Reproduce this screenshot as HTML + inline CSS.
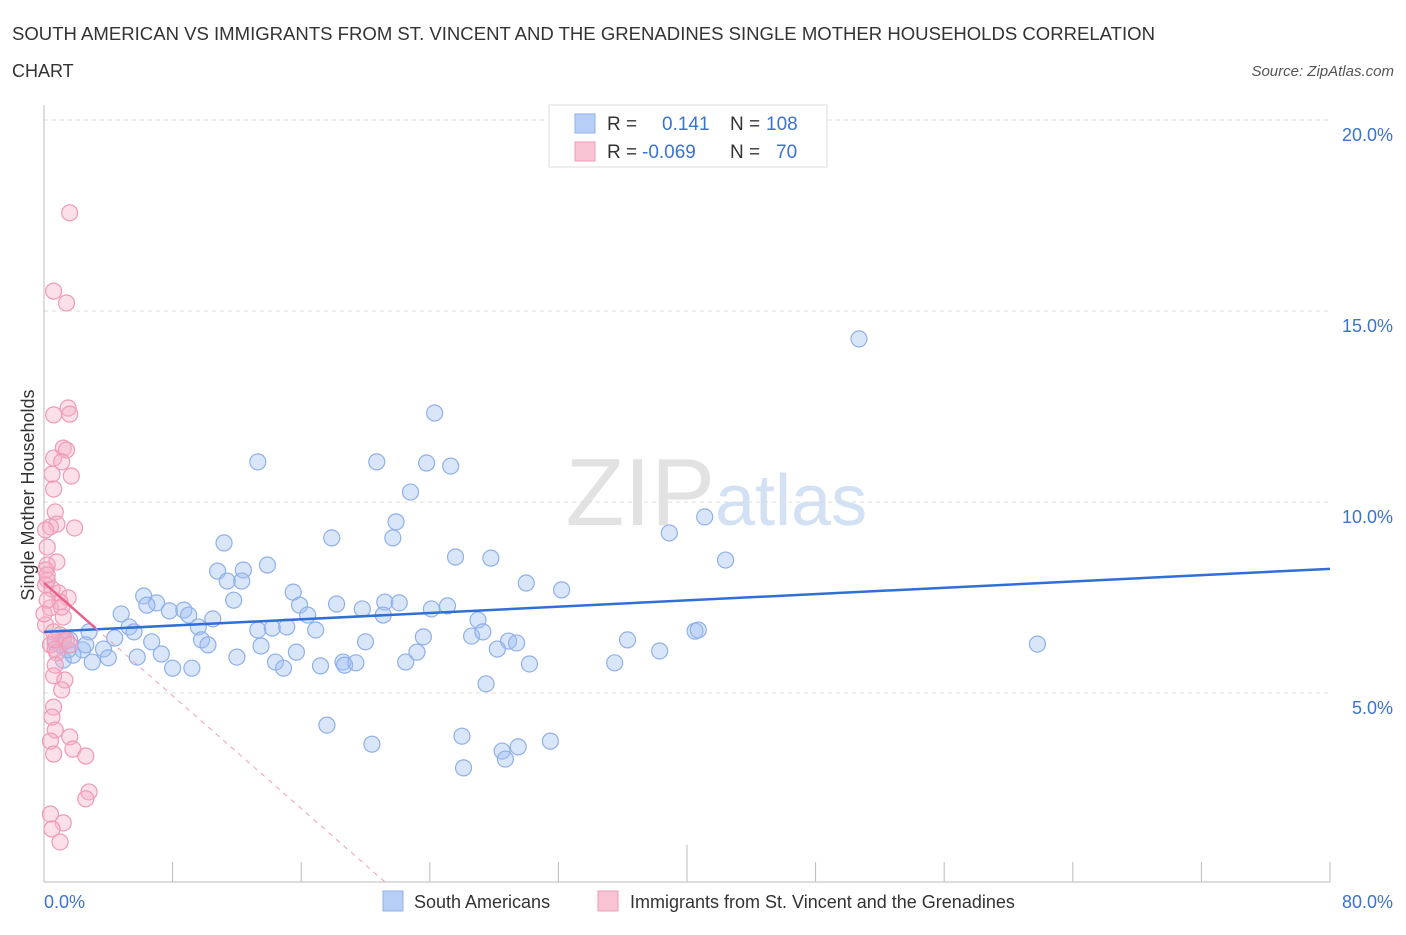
<!DOCTYPE html>
<html><head><meta charset="utf-8"><style>
body{margin:0;background:#fff;font-family:"Liberation Sans",sans-serif;}
svg text{font-family:"Liberation Sans",sans-serif;}
</style></head><body>
<svg id="chart" width="1406" height="930" xmlns="http://www.w3.org/2000/svg">
<text x="12" y="40" font-size="18" fill="#333" textLength="1143" lengthAdjust="spacingAndGlyphs">SOUTH AMERICAN VS IMMIGRANTS FROM ST. VINCENT AND THE GRENADINES SINGLE MOTHER HOUSEHOLDS CORRELATION</text>
<text x="12" y="77" font-size="18" fill="#333">CHART</text>
<text x="1394" y="76" font-size="15" fill="#555" font-style="italic" text-anchor="end">Source: ZipAtlas.com</text>
<text x="715" y="525" font-size="96" fill="#e2e2e2" text-anchor="end" font-family="Liberation Serif">ZIP</text>
<text x="715" y="525" font-size="72" fill="#d2e1f3">atlas</text>
<g id="grid"></g><g id="axes"></g><g id="pts"></g><g id="trend"></g>
<text x="34" y="495" font-size="18" fill="#333" text-anchor="middle" transform="rotate(-90 34 495)">Single Mother Households</text>
<text x="44" y="908" font-size="18" fill="#3b73d1">0.0%</text>
<text x="1393" y="908" font-size="18" fill="#3b73d1" text-anchor="end">80.0%</text>
<g>
<rect x="549" y="105" width="278" height="62" fill="#fff" stroke="#ddd"/>
<rect x="575" y="114" width="20" height="19" fill="#b7cff5" stroke="#8fb0e8"/>
<rect x="575" y="142" width="20" height="19" fill="#f8c4d3" stroke="#f09ab5"/>
<text x="607" y="130" font-size="19" fill="#333">R =</text><text x="662" y="130" font-size="19" fill="#3b73d1">0.141</text>
<text x="730" y="130" font-size="19" fill="#333">N =</text><text x="766" y="130" font-size="19" fill="#3b73d1">108</text>
<text x="607" y="158" font-size="19" fill="#333">R =</text><text x="642" y="158" font-size="19" fill="#3b73d1">-0.069</text>
<text x="730" y="158" font-size="19" fill="#333">N =</text><text x="776" y="158" font-size="19" fill="#3b73d1">70</text>
</g>
<g>
<rect x="383" y="891" width="20" height="20" fill="#b7cff5" stroke="#8fb0e8"/>
<text x="414" y="908" font-size="18" fill="#333">South Americans</text>
<rect x="598" y="891" width="20" height="20" fill="#f8c4d3" stroke="#f09ab5"/>
<text x="630" y="908" font-size="18" fill="#333">Immigrants from St. Vincent and the Grenadines</text>
</g>
</svg>
<script>
const yTicks=[5,10,15,20];
const yTickLabels=["5.0%","10.0%","15.0%","20.0%"];
const xTicks=[0,8,16,24,32,40,48,56,64,72,80];
const blueX=[50.7,24.3,13.3,20.7,23.8,25.3,22.8,41.1,21.9,17.9,21.7,38.9,11.2,25.6,27.8,42.4,13.9,10.8,12.4,11.4,12.3,30.0,32.2,6.2,15.5,11.8,7.0,6.4,15.9,18.2,19.8,21.2,22.1,25.1,24.1,21.1,7.8,8.7,4.8,9.0,10.5,16.4,9.6,5.3,13.3,14.2,15.1,16.9,27.0,5.6,26.6,27.3,40.5,40.7,36.3,2.8,4.4,9.8,6.7,23.6,10.2,20.0,28.9,29.4,13.5,28.2,61.8,1.6,1.0,2.4,3.7,7.3,15.7,23.2,38.3,5.8,4.0,12.0,3.0,1.2,1.8,14.4,18.6,22.5,30.2,35.5,8.0,9.2,14.9,17.2,18.7,19.4,27.5,17.6,26.0,31.5,20.4,29.5,28.5,28.7,26.1,1.5,0.7,1.2,2.6];
const blueY=[14.27,12.33,11.05,11.05,11.02,10.94,10.26,9.61,9.48,9.06,9.06,9.19,8.93,8.56,8.53,8.48,8.35,8.19,8.22,7.93,7.93,7.88,7.70,7.54,7.64,7.43,7.36,7.30,7.30,7.33,7.20,7.38,7.36,7.28,7.20,7.04,7.15,7.17,7.07,7.04,6.94,7.04,6.73,6.73,6.65,6.70,6.73,6.65,6.91,6.60,6.49,6.60,6.62,6.65,6.39,6.60,6.44,6.39,6.34,6.47,6.26,6.34,6.36,6.31,6.23,6.15,6.28,6.39,6.26,6.13,6.15,6.02,6.07,6.07,6.10,5.94,5.92,5.94,5.81,5.86,5.99,5.81,5.81,5.81,5.76,5.79,5.65,5.65,5.65,5.71,5.73,5.79,5.24,4.16,3.87,3.74,3.66,3.59,3.48,3.27,3.04,6.13,6.31,6.44,6.26];
const pinkX=[1.6,0.6,1.4,0.6,1.5,1.6,1.2,1.4,0.6,1.1,0.5,1.7,0.6,0.7,0.8,0.4,1.9,0.1,0.2,0.8,0.2,0.1,0.2,0.1,0.5,0.9,1.5,1.0,0.4,1.2,0.1,0.6,1.0,1.2,0.4,0.7,0.8,0.7,0.6,1.3,1.1,0.6,0.5,0.7,1.6,0.4,1.8,2.6,0.6,2.8,2.6,0.4,1.2,0.5,1.0,0.2,0.2,1.1,0.0,0.7,1.4,1.6];
const pinkY=[17.57,15.52,15.21,12.28,12.46,12.30,11.41,11.36,11.15,11.05,10.73,10.68,10.34,9.74,9.42,9.35,9.32,9.27,8.82,8.43,8.35,8.22,7.96,7.83,7.72,7.62,7.49,7.38,7.23,6.99,6.78,6.60,6.52,6.36,6.26,6.15,6.05,5.73,5.45,5.34,5.08,4.63,4.37,4.03,3.85,3.74,3.53,3.35,3.40,2.41,2.23,1.83,1.60,1.44,1.10,7.43,8.09,7.25,7.07,6.39,6.39,6.26];
const blueTrend=[6.60,8.25];
const pinkTrend=[7.88,-0.369];
const NS="http://www.w3.org/2000/svg";
const X=v=>44+v/80*1286, Y=v=>884-v*38.2;
function mk(t,a,p){const e=document.createElementNS(NS,t);for(const k in a)e.setAttribute(k,a[k]);document.getElementById(p).appendChild(e);return e;}
yTicks.forEach((t,i)=>{
 const l=mk('line',{x1:44,x2:1330,y1:Y(t),y2:Y(t),stroke:'#ddd','stroke-dasharray':'4,4'},'grid');
 
 
 const tx=mk('text',{x:1393,y:Y(t)+21,'font-size':18,fill:'#3b73d1','text-anchor':'end'},'grid');
 tx.textContent=yTickLabels[i];
 
 
});
const ya=mk('line',{x1:44,x2:44,y1:105,y2:882,stroke:'#bbb'},'axes');


const xa=mk('line',{x1:44,x2:1330,y1:882,y2:882,stroke:'#bbb'},'axes');


xTicks.forEach((t,i)=>{
 const l=mk('line',{x1:X(t),x2:X(t),y1:i==5?845:862,y2:882,stroke:'#bbb'},'axes');
 
 
});
blueX.forEach((v,i)=>{
 const c=mk('circle',{cx:X(v),cy:Y(blueY[i]),r:8,fill:'rgba(160,192,242,0.4)',stroke:'#8fb0e8','stroke-width':1.2},'pts');
 
 
});
pinkX.forEach((v,i)=>{
 const c=mk('circle',{cx:X(v),cy:Y(pinkY[i]),r:8,fill:'rgba(246,176,200,0.4)',stroke:'#f09ab5','stroke-width':1.2},'pts');
 
 
});
const bl=mk('line',{x1:X(0),y1:Y(blueTrend[0]),x2:X(80),y2:Y(blueTrend[1]),stroke:'#2f6fd6','stroke-width':2.5},'trend');


const pe=-pinkTrend[0]/pinkTrend[1];
const pd=mk('line',{x1:X(3.2),y1:Y(pinkTrend[0]+pinkTrend[1]*3.2),x2:X(pe),y2:Y(0),stroke:'#f0a0b8','stroke-width':1,'stroke-dasharray':'5,5'},'trend');


const ps=mk('line',{x1:X(0),y1:Y(pinkTrend[0]),x2:X(3.2),y2:Y(pinkTrend[0]+pinkTrend[1]*3.2),stroke:'#e8628c','stroke-width':2.5},'trend');


</script>
</body></html>
